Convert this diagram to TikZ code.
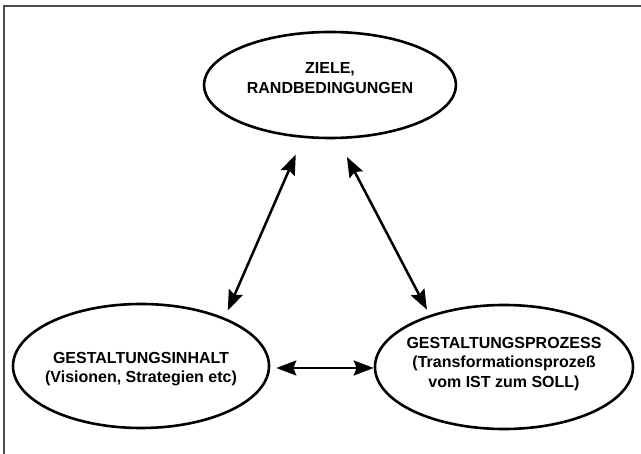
\documentclass[tikz,border=0pt]{standalone}
\usepackage{fontspec}
\setmainfont{Liberation Sans}
\usetikzlibrary{shapes.geometric,arrows.meta}
\begin{document}
\begin{tikzpicture}[x=1pt,y=-1pt,
  ell/.style={ellipse,draw=black,line width=2.6pt,inner sep=0pt},
  txt/.style={align=center,font=\fontsize{16}{19.5}\selectfont\bfseries,inner sep=0pt},
  arr/.style={line width=2.5pt,{Stealth[length=20pt,width=15pt,inset=3pt]}-{Stealth[length=20pt,width=15pt,inset=3pt]}},
  frame/.style={line width=2pt,draw=black!70}]
\useasboundingbox (0,0) rectangle (641,454);
\fill[white] (0,0) rectangle (641,454);
\coordinate (fbl) at (4,454);
\coordinate (ftl) at (4,6);
\coordinate (ftr) at (641,6);
\draw[frame] (fbl) -- (ftl) -- (ftr);
\node[ell,minimum width=252pt,minimum height=106pt] (ziele) at (330,85) {};
\node[txt] (zieletxt) at (330,78) {ZIELE,\\RANDBEDINGUNGEN};
\node[ell,minimum width=256pt,minimum height=124pt] (inhalt) at (141,366) {};
\node[txt] (inhalttxt) at (141,369) {GESTALTUNGSINHALT\\(Visionen, Strategien etc)};
\node[ell,minimum width=258pt,minimum height=124pt] (prozess) at (504,367) {};
\node[txt] (prozesstxt) at (504,364) {GESTALTUNGSPROZESS\\(Transformationsprozeß\\vom IST zum SOLL)};
\draw[arr,shorten <=18pt,shorten >=8pt] (ziele.243) -- (inhalt.30);
\draw[arr,shorten <=20pt,shorten >=6pt] (ziele.278.6) -- (prozess.145);
\draw[arr,shorten <=6pt] ([yshift=-2pt]inhalt.east) -- ([yshift=-1pt]prozess.west);
\end{tikzpicture}
\end{document}
